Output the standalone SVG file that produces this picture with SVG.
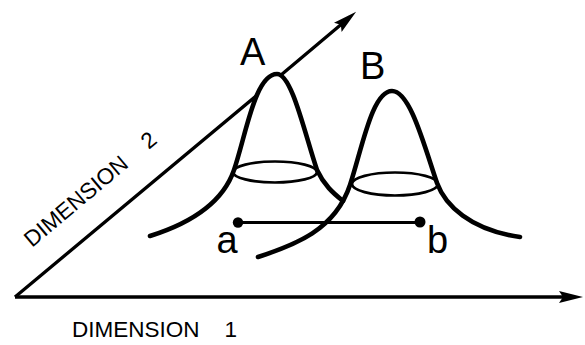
<svg xmlns="http://www.w3.org/2000/svg" width="585" height="345" viewBox="0 0 585 345">
<style>
.axis{fill:none;stroke:#000;stroke-width:3.3;stroke-linecap:butt;stroke-linejoin:miter}
.bell{fill:none;stroke:#000;stroke-width:4.6;stroke-linecap:round;stroke-linejoin:round}
.ring{fill:none;stroke:#000;stroke-width:2.7}
.seg{fill:none;stroke:#000;stroke-width:3}
.big{font-family:"Liberation Sans",Arial,Helvetica,sans-serif;font-size:38px;fill:#000}
.dim{font-family:"Liberation Sans",Arial,Helvetica,sans-serif;font-size:22.5px;fill:#000}
</style>
<defs>
<marker id="arr" markerUnits="userSpaceOnUse" markerWidth="26" markerHeight="14" refX="16" refY="7" orient="auto">
<path d="M0,1 L24,7 L0,13 L4,7 z" fill="#000"/>
</marker>
</defs>
<rect width="585" height="345" fill="#fff"/>
<g id="axes">
<path id="axis-1" class="axis" d="M15,297 L575,297" marker-end="url(#arr)"/>
<path id="axis-2" class="axis" d="M15,297 L256,96 M281,75 L350,17" marker-end="url(#arr)"/>
</g>
<g id="distribution-A">
<ellipse class="ring" cx="275" cy="172" rx="42" ry="10.5"/>
<path class="bell" d="M150,236 C185,225 222,205 234,170 C246,135 255,74 277,74 C292,74 305,135 317,170 C324,185 333,193 343,201"/>
</g>
<g id="distribution-B">
<ellipse class="ring" cx="395" cy="184" rx="43" ry="11.5"/>
<path class="bell" d="M258,257 C295,245 335,230 350,185 C362,149 372,91 392,91 C410,91 424,145 437,183 C445,205 470,230 520,237"/>
</g>
<g id="segment-ab">
<line class="seg" x1="238" y1="222.5" x2="420" y2="222.5"/>
<circle cx="238" cy="222.5" r="5.2" fill="#000"/>
<circle cx="420" cy="222" r="5.5" fill="#000"/>
</g>
<g id="labels">
<text class="big" x="240" y="65">A</text>
<text class="big" x="360" y="79">B</text>
<text class="big" x="216.5" y="253">a</text>
<text class="big" x="427" y="253">b</text>
<text class="dim" x="72" y="337">DIMENSION <tspan dx="18.7">1</tspan></text>
<text class="dim" transform="translate(32,248) rotate(-40)">DIMENSION <tspan dx="18.7">2</tspan></text>
</g>
</svg>
